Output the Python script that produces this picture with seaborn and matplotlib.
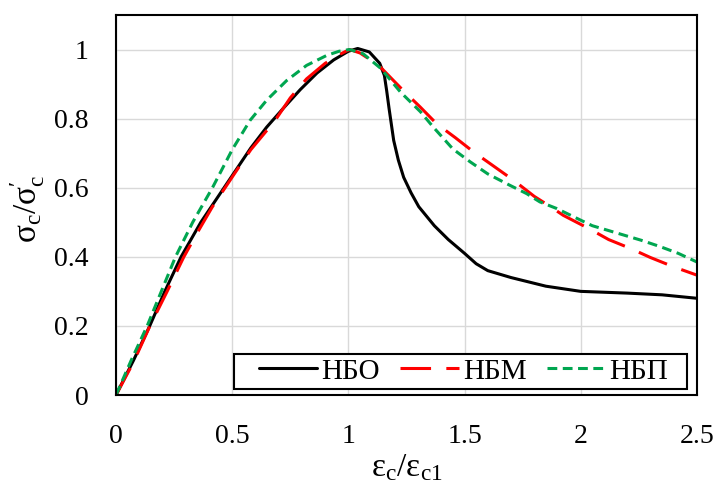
import matplotlib
matplotlib.use("Agg")
import matplotlib.pyplot as plt
from matplotlib.patches import Rectangle
import seaborn as sns
import pandas as pd

# ---- data ----
nbo_x = [0, 0.075, 0.145, 0.21, 0.28, 0.365, 0.465, 0.52, 0.58, 0.648, 0.72, 0.793, 0.865,
         0.937, 1.0, 1.04, 1.09, 1.135, 1.155, 1.165, 1.175, 1.195, 1.215, 1.238, 1.27,
         1.303, 1.37, 1.43, 1.5, 1.55, 1.6, 1.7, 1.85, 2.0, 2.2, 2.35, 2.5]
nbo_y = [0, 0.10, 0.20, 0.30, 0.40, 0.50, 0.60, 0.655, 0.715, 0.775, 0.83, 0.884, 0.932,
         0.97, 0.995, 1.003, 0.993, 0.96, 0.925, 0.88, 0.83, 0.737, 0.68, 0.63, 0.585,
         0.545, 0.49, 0.45, 0.41, 0.38, 0.36, 0.34, 0.315, 0.30, 0.295, 0.29, 0.28]

nbm_x = [0, 0.075, 0.146, 0.22, 0.292, 0.35, 0.414, 0.514, 0.58, 0.648, 0.69, 0.75, 0.82,
         0.9, 0.96, 1.005, 1.05, 1.1, 1.138, 1.18, 1.238, 1.31, 1.38, 1.46, 1.54, 1.62,
         1.71, 1.8, 1.87, 1.925, 2.04, 2.12, 2.215, 2.3, 2.4, 2.5]
nbm_y = [0, 0.095, 0.20, 0.30, 0.40, 0.47, 0.544, 0.645, 0.71, 0.765, 0.80, 0.86, 0.915,
         0.96, 0.985, 1.0, 0.99, 0.968, 0.949, 0.92, 0.88, 0.833, 0.785, 0.745, 0.703, 0.665,
         0.622, 0.575, 0.545, 0.52, 0.48, 0.45, 0.424, 0.398, 0.371, 0.347]

nbp_x = [0, 0.065, 0.134, 0.195, 0.256, 0.33, 0.415, 0.5, 0.577, 0.648, 0.734, 0.82, 0.907,
         0.96, 1.005, 1.063, 1.14, 1.224, 1.31, 1.366, 1.45, 1.524, 1.6, 1.695, 1.767, 1.824,
         1.896, 2.0, 2.05, 2.15, 2.26, 2.34, 2.42, 2.5]
nbp_y = [0, 0.10, 0.20, 0.30, 0.40, 0.50, 0.60, 0.71, 0.795, 0.853, 0.91, 0.954, 0.983,
         0.995, 1.0, 0.988, 0.945, 0.877, 0.82, 0.775, 0.712, 0.675, 0.64, 0.607, 0.583, 0.559,
         0.54, 0.506, 0.49, 0.47, 0.448, 0.43, 0.41, 0.385]

labels = ["НБО", "НБМ", "НБП"]
x_ticks = [0, 0.5, 1, 1.5, 2, 2.5]
x_tick_labels = ["0", "0.5", "1", "1.5", "2", "2.5"]
y_ticks = [0, 0.2, 0.4, 0.6, 0.8, 1.0]
y_tick_labels = ["0", "0.2", "0.4", "0.6", "0.8", "1"]

# ---- styling ----
sns.set_theme(style="whitegrid")
plt.rcParams["font.family"] = ["Liberation Serif", "DejaVu Serif"]
plt.rcParams["mathtext.fontset"] = "stix"

fig = plt.figure(figsize=(7.18, 4.86), dpi=100)
ax = fig.add_axes([0.1616, 0.1872, 0.809, 0.782])

df = pd.concat([
    pd.DataFrame({"x": nbo_x, "y": nbo_y, "s": labels[0]}),
    pd.DataFrame({"x": nbm_x, "y": nbm_y, "s": labels[1]}),
    pd.DataFrame({"x": nbp_x, "y": nbp_y, "s": labels[2]}),
])

palette = {labels[0]: "black", labels[1]: "#ff0000", labels[2]: "#00a650"}
dashes = {labels[0]: "", labels[1]: (10, 5), labels[2]: (3.2, 1.8)}

sns.lineplot(data=df, x="x", y="y", hue="s", style="s", palette=palette,
             dashes=dashes, sort=False, estimator=None, linewidth=2.2, ax=ax)

ax.set_xlim(0, 2.5)
ax.set_ylim(0, 1.1)
ax.set_xticks(x_ticks)
ax.set_xticklabels(x_tick_labels)
ax.set_yticks(y_ticks)
ax.set_yticklabels(y_tick_labels)
ax.tick_params(axis="both", length=0, labelsize=20, colors="black")
ax.tick_params(axis="y", pad=20)
ax.tick_params(axis="x", pad=21)
ax.grid(True, color="#d9d9d9", linewidth=1.0)
for sp in ax.spines.values():
    sp.set_color("black")
    sp.set_linewidth(1.5)
    sp.set_visible(True)

ax.set_xlabel(r"$\mathregular{ε_c/ε_{c1}}$", fontsize=24, color="black")
ax.set_ylabel(r"$\mathregular{σ_c/σ_c^{\prime}}$", fontsize=24, color="black")
ax.xaxis.set_label_coords(0.5, -0.15)
ax.yaxis.set_label_coords(-0.119, 0.49)

# legend: entries without frame, frame drawn as a box
leg = ax.legend(loc="center", bbox_to_anchor=(0.598, 0.062), borderaxespad=0,
                ncol=3, fontsize=21, frameon=False, handlelength=2.0,
                handletextpad=0.14, columnspacing=0.7, borderpad=0, title=None)
for t in leg.get_texts():
    t.set_color("black")
leg.set_zorder(6)
ax.add_patch(Rectangle((0.2031, 0.015), 0.9823 - 0.2031, 0.108 - 0.015,
                       transform=ax.transAxes, facecolor="white", edgecolor="black",
                       linewidth=1.5, zorder=5, clip_on=False))

fig.savefig("out.png", dpi=100, facecolor="white")
